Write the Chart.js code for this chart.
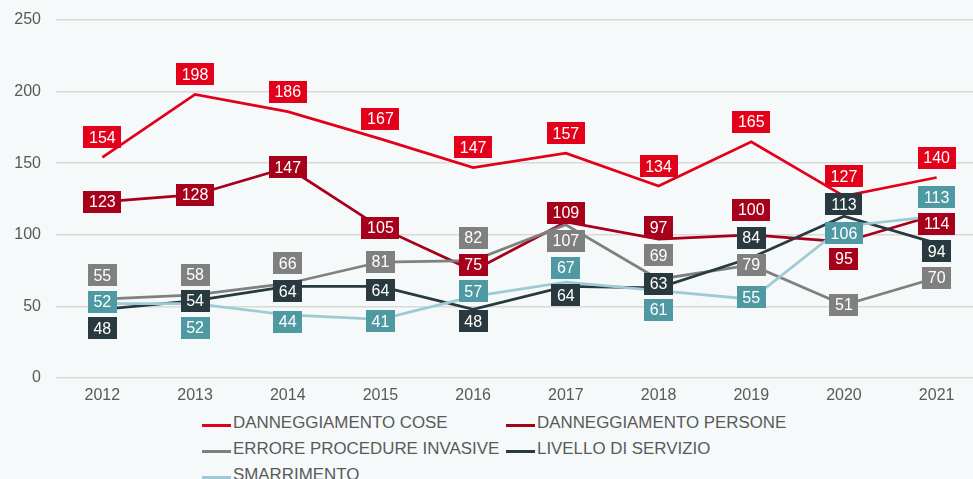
<!DOCTYPE html>
<html>
<head>
<meta charset="utf-8">
<script src="https://cdn.jsdelivr.net/npm/chart.js@4.4.1/dist/chart.umd.min.js"></script>
<style>
  html, body { margin: 0; padding: 0; background: #f6f9f9; overflow: hidden; }
  #wrap { position: relative; width: 973px; height: 479px; overflow: hidden; }
  #myChart { position: absolute; left: 0; top: 0; }
  #legend { position: absolute; left: 0; top: 0; font-family: "Liberation Sans", Arial, sans-serif; font-size: 16.9px; color: #595959; }
  .item { position: absolute; height: 26px; line-height: 26px; white-space: nowrap; }
  .swatch { position: absolute; left: 0; top: 14px; width: 29px; height: 3px; }
  .txt { position: absolute; left: 31px; top: 0; }
</style>
</head>
<body>
<div id="wrap">
  <canvas id="myChart" width="983" height="410"></canvas>
  <div id="legend"></div>
</div>
<script>
const years = ['2012', '2013', '2014', '2015', '2016', '2017', '2018', '2019', '2020', '2021'];
const seriesNames = [
  'DANNEGGIAMENTO COSE',
  'DANNEGGIAMENTO PERSONE',
  'ERRORE PROCEDURE INVASIVE',
  'LIVELLO DI SERVIZIO',
  'SMARRIMENTO'
];
const danneggiamentoCose = [154, 198, 186, 167, 147, 157, 134, 165, 127, 140];
const danneggiamentoPersone = [123, 128, 147, 105, 75, 109, 97, 100, 95, 114];
const erroreProcedure = [55, 58, 66, 81, 82, 107, 69, 79, 51, 70];
const livelloServizio = [48, 54, 64, 64, 48, 64, 63, 84, 113, 94];
const smarrimento = [52, 52, 44, 41, 57, 67, 61, 55, 106, 113];

// label placement (pixels, vertical shift from the point), styling only
const shiftCose = [-20, -20, -20, -20, -20, -20, -20, -20, -20, -20];
const shiftPersone = [0, 0, 0, 0, -6, -9, -12, -25, 17, 9];
const shiftErrore = [-24, -20, -20, 0, -23, 16, -24, 0, 0, 0];
const shiftLivello = [19, 0, 5, 4, 12, 9, -4, -20, -12, 8];
const shiftSmarr = [-2, 24, 7, 2, -5, -14, 19, -2, 7, -19];

const tickFont = { family: '"Liberation Sans", Arial, sans-serif', size: 16 };

function makeSet(i, data, color, labelBg, shift) {
  return {
    label: seriesNames[i],
    data: data,
    borderColor: color,
    backgroundColor: color,
    labelBg: labelBg,
    labelShift: shift,
    order: 4 - i
  };
}

const boxLabels = {
  id: 'boxLabels',
  afterDatasetsDraw(chart) {
    const ctx = chart.ctx;
    ctx.save();
    ctx.font = '16px "Liberation Sans", Arial, sans-serif';
    ctx.textAlign = 'center';
    ctx.textBaseline = 'middle';
    chart.data.datasets.forEach(function(ds, i) {
      const meta = chart.getDatasetMeta(i);
      meta.data.forEach(function(pt, j) {
        const txt = String(ds.data[j]);
        const w = Math.round(ctx.measureText(txt).width + 11);
        const h = 22;
        const x = pt.x;
        const y = pt.y + ds.labelShift[j];
        ctx.fillStyle = ds.labelBg;
        ctx.fillRect(Math.round(x - w / 2), Math.round(y - h / 2), w, h);
        ctx.fillStyle = '#ffffff';
        ctx.fillText(txt, x, y + 1);
      });
    });
    ctx.restore();
  }
};

const data1 = {
  labels: years,
  datasets: [
    makeSet(0, danneggiamentoCose, '#e3001b', '#e3001b', shiftCose),
    makeSet(1, danneggiamentoPersone, '#a6001a', '#a6001a', shiftPersone),
    makeSet(2, erroreProcedure, '#808080', '#808080', shiftErrore),
    makeSet(3, livelloServizio, '#283a3f', '#283a3f', shiftLivello),
    makeSet(4, smarrimento, '#9ecbd3', '#4f9aa2', shiftSmarr)
  ]
};

const config1 = {
  type: 'line',
  data: data1,
  plugins: [boxLabels],
  options: {
    responsive: false,
    animation: false,
    layout: { padding: { top: 20, right: 0, bottom: 0, left: 0 } },
    elements: {
      point: { radius: 0, hoverRadius: 0 },
      line: { tension: 0, borderWidth: 2.75 }
    },
    plugins: {
      legend: { display: false },
      tooltip: { enabled: false }
    },
    scales: {
      x: {
        offset: true,
        grid: { display: false, drawTicks: false },
        border: { display: false },
        ticks: { color: '#595959', font: tickFont, padding: 8, maxRotation: 0, autoSkip: false },
        afterFit: function(s) { s.height = 32; }
      },
      y: {
        min: 0,
        max: 250,
        ticks: { stepSize: 50, color: '#595959', font: tickFont, padding: 0 },
        grid: { color: '#d9d9d9', lineWidth: 1.5, drawTicks: true, tickLength: 15, tickColor: 'rgba(0,0,0,0)' },
        border: { display: false },
        afterFit: function(s) { s.width = 56; }
      }
    }
  }
};

const myChart1 = new Chart(document.getElementById('myChart'), config1);

// legend in two columns, like the original
const legendCols = [202, 506];
const legendRows = [423, 449, 475];
const legend = document.getElementById('legend');
data1.datasets.forEach(function(ds, i) {
  const el = document.createElement('div');
  el.className = 'item';
  el.style.left = legendCols[i % 2] + 'px';
  el.style.top = (legendRows[Math.floor(i / 2)] - 13) + 'px';
  el.innerHTML = '<span class="swatch" style="background:' + ds.borderColor + '"></span><span class="txt">' + ds.label + '</span>';
  legend.appendChild(el);
});
</script>
</body>
</html>
